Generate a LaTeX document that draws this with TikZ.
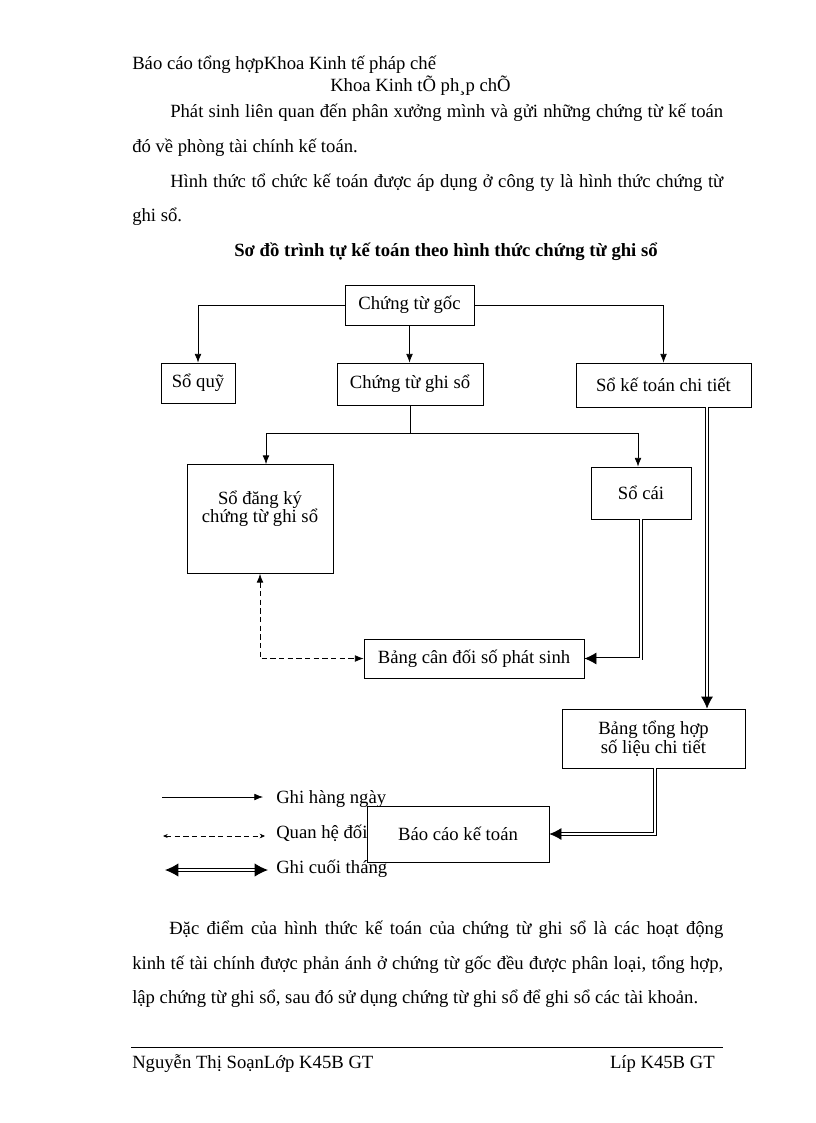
\documentclass[tikz,border=0pt]{standalone}
\usepackage{fontspec}
\setmainfont{Liberation Serif}
\usetikzlibrary{arrows.meta}
\begin{document}
\begin{tikzpicture}[x=0.75pt,y=-0.75pt,
  every node/.style={font=\fontsize{14}{16}\selectfont},
  txt/.style={inner sep=0pt, anchor=base west},
  box/.style={draw, line width=0.6pt, fill=white, inner sep=0pt, align=center},
  arr/.style={line width=0.5pt, -{Latex[length=6.5pt,width=5pt]}},
  dbl/.style={line width=0.6pt, double, double distance=1.5pt, -{Latex[length=9pt,width=9pt]}},
  dsh/.style={line width=0.5pt, dash pattern=on 4pt off 2.5pt, {Latex[length=6.5pt,width=5pt]}-{Latex[length=6.5pt,width=5pt]}}
]
\useasboundingbox (0,0) rectangle (816,1123);

% header text
\node[txt] (h1) at (132,70) {Báo cáo tổng hợpKhoa Kinh tế pháp chế};
\node[txt] (h2) at (330,92) {Khoa Kinh tÕ ph¸p chÕ};
\node[txt] (h3) at (170,118) {\makebox[414.75pt][s]{Phát sinh liên quan đến phân xưởng mình và gửi những chứng từ kế toán}};
\node[txt] (h4) at (132,153) {đó về phòng tài chính kế toán.};
\node[txt] (h5) at (170,188) {\makebox[414.75pt][s]{Hình thức tổ chức kế toán được áp dụng ở công ty là hình thức chứng từ}};
\node[txt] (h6) at (132,222) {ghi sổ.};
\node[txt, anchor=base] (title) at (446,256) {\bfseries Sơ đồ trình tự kế toán theo hình thức chứng từ ghi sổ};

% boxes
\node[box, minimum width=96.75pt, minimum height=30pt] (goc) at (409.5,305) {Chứng từ gốc};
\node[box, minimum width=55.5pt, minimum height=30pt] (quy) at (198,383) {Sổ quỹ};
\node[box, minimum width=109.5pt, minimum height=31.5pt] (ctgs) at (410,384) {Chứng từ ghi sổ};
\node[box, minimum width=131.25pt, minimum height=33pt] (sktct) at (663.5,385) {Sổ kế toán chi tiết};
\node[box, minimum width=109.5pt, minimum height=81.75pt] (dangky) at (260,519) {};
\node[inner sep=0pt, align=center, font=\fontsize{14}{13.5}\selectfont] (dangkytxt) at (260,509) {Sổ đăng ký\\chứng từ ghi sổ};
\node[box, minimum width=75pt, minimum height=39pt] (cai) at (641,493) {Sổ cái};
\node[box, minimum width=165pt, minimum height=29.25pt] (bcd) at (474,658.5) {Bảng cân đối số phát sinh};
\node[box, minimum width=137.25pt, minimum height=44.25pt, font=\fontsize{14}{13}\selectfont] (bth) at (653.5,738.5) {Bảng tổng hợp\\số liệu chi tiết};

% connectors
\draw[arr] (goc.west) -| (quy.north);
\draw[arr] (goc.south) -- (goc.south |- ctgs.north);
\draw[arr] (goc.east) -| (sktct.north);

\coordinate (jl) at (266,433);
\coordinate (jr) at (638,433);
\draw[line width=0.5pt] (ctgs.south) -- (ctgs.south |- jl);
\draw[line width=0.5pt] (jl) -- (jr);
\draw[arr] (jl) -- (jl |- dangky.north);
\draw[arr] (jr) -- (jr |- cai.north);

\coordinate (c1) at (707,0);
\draw[dbl] (c1 |- sktct.south) -- (c1 |- bth.north);
\coordinate (c2) at (641,0);
\draw[dbl] (c2 |- cai.south) |- (bcd.east);
\coordinate (c3) at (260,0);
\draw[dsh] (c3 |- dangky.south) |- (bcd.west);

% legend
\coordinate (l1a) at (162,797);
\coordinate (l1b) at (263,797);
\draw[arr] (l1a) -- (l1b);
\node[txt] (t1) at (276,803) {Ghi hàng ngày};
\coordinate (l2a) at (163,836);
\coordinate (l2b) at (265,836);
\draw[line width=0.5pt, dash pattern=on 4pt off 2.5pt, {Stealth[length=3.5pt,width=3pt]}-{Stealth[length=4pt,width=3.5pt]}] (l2a) -- (l2b);
\node[txt] (t2) at (276,838) {Quan hệ đối};
\coordinate (l3a) at (165,870);
\coordinate (l3b) at (268,870);
\draw[line width=0.8pt, double, double distance=1.5pt, {Latex[length=10pt,width=10pt]}-{Latex[length=10pt,width=10pt]}] (l3a) -- (l3b);
\node[txt] (t3) at (276,873) {Ghi cuối tháng};

\node[box, minimum width=136.5pt, minimum height=42pt] (bckt) at (458,834) {Báo cáo kế toán};
\coordinate (c4) at (655,0);
\draw[dbl] (c4 |- bth.south) |- (bckt.east);

% body text
\node[txt] (b1) at (169,934) {\makebox[415.5pt][s]{Đặc điểm của hình thức kế toán của chứng từ ghi sổ là các hoạt động}};
\node[txt] (b2) at (132,969) {\makebox[443.25pt][s]{kinh tế tài chính được phản ánh ở chứng từ gốc đều được phân loại, tổng hợp,}};
\node[txt] (b3) at (132,1003) {lập chứng từ ghi sổ, sau đó sử dụng chứng từ ghi sổ để ghi sổ các tài khoản.};

% footer
\coordinate (fl) at (131,1047);
\coordinate (fr) at (723,1047);
\draw[line width=0.6pt] (fl) -- (fr);
\node[txt] (f1) at (132,1068) {Nguyễn Thị SoạnLớp K45B GT};
\node[txt, anchor=base east] (f2) at (715,1068) {Líp K45B GT};
\end{tikzpicture}
\end{document}
